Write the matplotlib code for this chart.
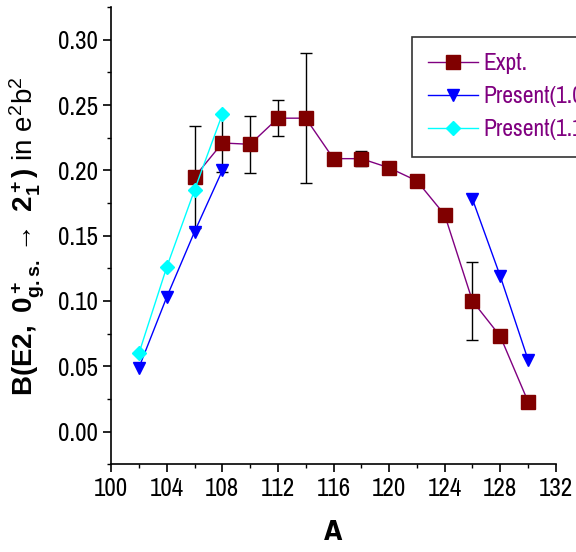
import numpy as np
import matplotlib.pyplot as plt

plt.rcParams['font.family'] = ['Archivo Narrow', 'Liberation Sans', 'DejaVu Sans']
plt.rcParams['mathtext.fontset'] = 'custom'
plt.rcParams['mathtext.rm'] = 'Liberation Sans'
plt.rcParams['mathtext.bf'] = 'Liberation Sans:bold'
plt.rcParams['mathtext.it'] = 'Liberation Sans:italic'

# experimental values
expt_a = [106, 108, 110, 112, 114, 116, 118, 120, 122, 124, 126, 128, 130]
expt_b = [0.195, 0.221, 0.220, 0.240, 0.240, 0.209, 0.209, 0.202, 0.192, 0.166, 0.100, 0.073, 0.023]
expt_err = [0.039, 0.022, 0.022, 0.014, 0.050, 0.004, 0.006, 0.003, 0.003, 0.002, 0.030, 0.004, 0.002]

# calculation 1 (two separate groups)
calc1_a_low = [102, 104, 106, 108]
calc1_b_low = [0.049, 0.103, 0.153, 0.200]
calc1_a_high = [126, 128, 130]
calc1_b_high = [0.178, 0.119, 0.055]

# calculation 2
calc2_a = [102, 104, 106, 108]
calc2_b = [0.060, 0.126, 0.185, 0.243]


def main():
    fig = plt.figure(figsize=(5.76, 5.52), dpi=100)
    ax = fig.add_axes([0.193, 0.159, 0.772, 0.828])

    ax.errorbar(expt_a, expt_b, yerr=expt_err, fmt='none', ecolor='black',
                elinewidth=1, capsize=4, capthick=1, zorder=2)
    ax.plot(expt_a, expt_b, color='#800080', lw=1, marker='s', ms=10,
            mfc='#800000', mec='#800000', label='Expt.', zorder=3)

    ax.plot(calc1_a_low, calc1_b_low, color='blue', lw=1, marker='v', ms=9,
            mfc='blue', mec='blue', label='Present(1.0)', zorder=4)
    ax.plot(calc1_a_high, calc1_b_high, color='blue', lw=1, marker='v', ms=9,
            mfc='blue', mec='blue', zorder=4)

    ax.plot(calc2_a, calc2_b, color='cyan', lw=1, marker='D', ms=7,
            mfc='cyan', mec='cyan', label='Present(1.1)', zorder=5)

    ax.set_xlim(100, 132)
    ax.set_ylim(-0.025, 0.325)
    ax.set_xticks(np.arange(100, 133, 4))
    ax.set_xticks(np.arange(102, 132, 4), minor=True)
    ax.set_yticks(np.arange(0, 0.31, 0.05))
    ax.set_yticks(np.arange(-0.025, 0.33, 0.05), minor=True)
    ax.set_yticklabels([f"{v:.2f}" for v in np.arange(0, 0.31, 0.05)])

    ax.spines['top'].set_visible(False)
    ax.spines['right'].set_visible(False)
    ax.spines['left'].set_linewidth(1.2)
    ax.spines['bottom'].set_linewidth(1.2)
    ax.tick_params(which='major', direction='out', length=6, width=1.2, labelsize=18)
    ax.tick_params(which='minor', direction='out', length=3, width=1)

    ax.set_xlabel('A', fontsize=19, fontweight='bold', family='DejaVu Sans',
                  fontstretch='condensed', labelpad=14)
    ax.set_ylabel(r'$\mathbf{B(E2,\ 0^+_{g.s.}\rightarrow\ 2^+_1)}$ in e$^2$b$^2$',
                  fontsize=20, family='Liberation Sans', labelpad=8)

    leg = ax.legend(loc='upper left', bbox_to_anchor=(0.676, 0.935),
                    borderaxespad=0, fancybox=False, edgecolor='black',
                    fontsize=17, handlelength=2.1, labelcolor='#800080',
                    borderpad=0.7, labelspacing=0.5, handletextpad=0.25)
    leg.get_frame().set_linewidth(1.2)

    fig.savefig('out.png', dpi=100)


if __name__ == '__main__':
    main()
